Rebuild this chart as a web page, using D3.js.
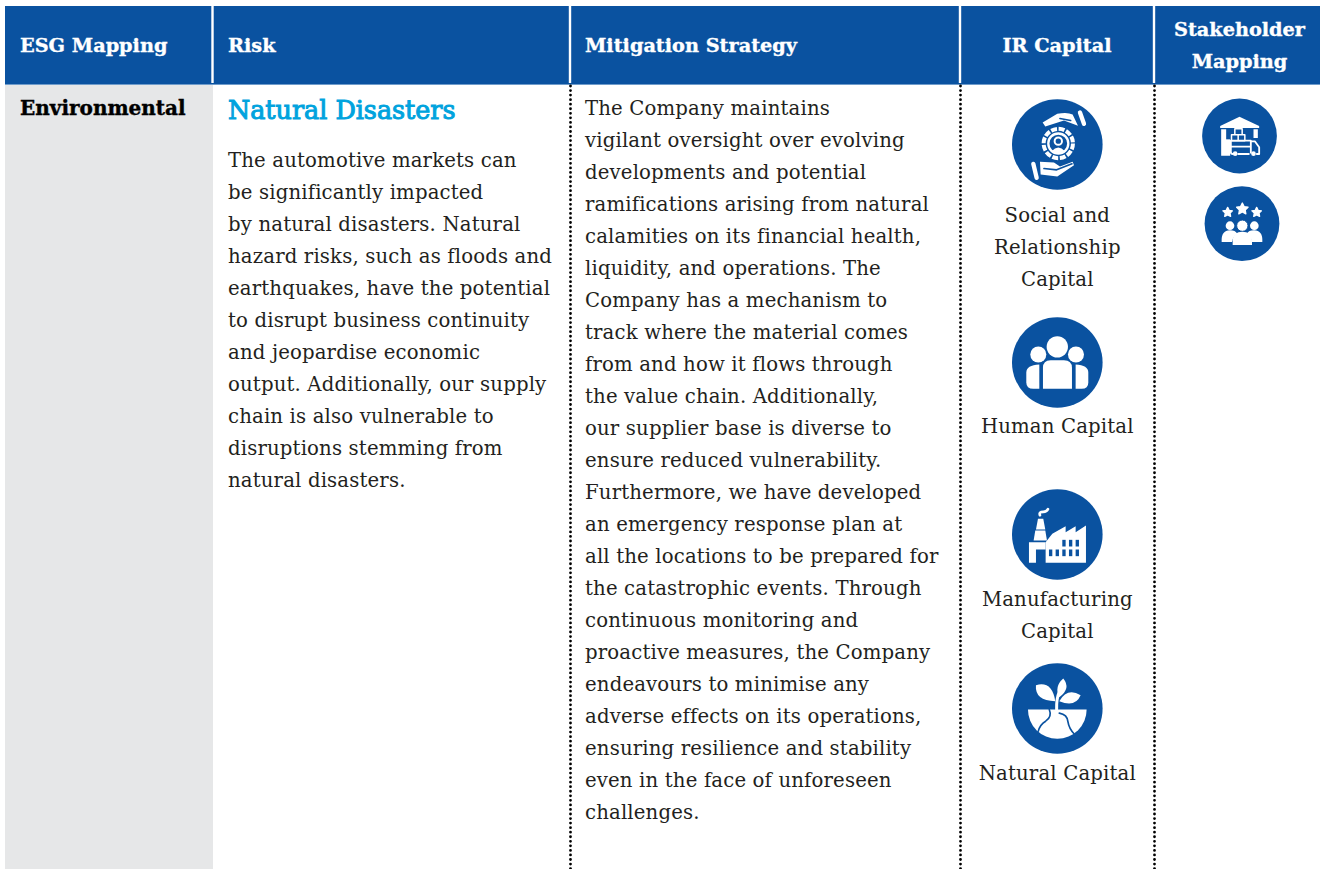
<!DOCTYPE html>
<html>
<head>
<meta charset="utf-8">
<script src="https://cdn.jsdelivr.net/npm/d3@7"></script>
<style>
html, body { margin: 0; padding: 0; background: #fff; overflow: hidden; }
text { font-family: "DejaVu Serif", serif; }
</style>
</head>
<body>
<script>
// table content
var columns = ["ESG Mapping", "Risk", "Mitigation Strategy", "IR Capital", ["Stakeholder", "Mapping"]];
var esgLabel = "Environmental";
var riskTitle = "Natural Disasters";
var riskLines = [
    "The automotive markets can",
    "be significantly impacted",
    "by natural disasters. Natural",
    "hazard risks, such as floods and",
    "earthquakes, have the potential",
    "to disrupt business continuity",
    "and jeopardise economic",
    "output. Additionally, our supply",
    "chain is also vulnerable to",
    "disruptions stemming from",
    "natural disasters."
];
var mitigationLines = [
    "The Company maintains",
    "vigilant oversight over evolving",
    "developments and potential",
    "ramifications arising from natural",
    "calamities on its financial health,",
    "liquidity, and operations. The",
    "Company has a mechanism to",
    "track where the material comes",
    "from and how it flows through",
    "the value chain. Additionally,",
    "our supplier base is diverse to",
    "ensure reduced vulnerability.",
    "Furthermore, we have developed",
    "an emergency response plan at",
    "all the locations to be prepared for",
    "the catastrophic events. Through",
    "continuous monitoring and",
    "proactive measures, the Company",
    "endeavours to minimise any",
    "adverse effects on its operations,",
    "ensuring resilience and stability",
    "even in the face of unforeseen",
    "challenges."
];
var capitalIcons = ["social", "human", "manufacturing", "natural"];
var capitalLabels = [["Social and", "Relationship", "Capital"], ["Human Capital"], ["Manufacturing", "Capital"], ["Natural Capital"]];
var stakeholderIcons = ["warehouse", "people"];

var blue = "#0a52a0", sky = "#00a3de", grey = "#e6e7e8", ink = "#231f20";
var width = 1320, height = 869;

var svg = d3.select("body").append("svg")
    .attr("width", width)
    .attr("height", height);

// column layout
var colX = d3.scaleOrdinal().domain(d3.range(6)).range([5, 213, 570.5, 960.5, 1154.5, 1320]);
var lineY = d3.scaleLinear().domain([0, 1]).range([0, 32]);

// header
svg.append("rect").attr("x", 5).attr("y", 6).attr("width", width - 5).attr("height", 78).attr("fill", blue);
svg.append("rect").attr("x", 5).attr("y", 84).attr("width", width - 5).attr("height", 1).attr("fill", "#6f9ccb");
svg.selectAll(".sep").data([1, 2, 3, 4]).enter().append("line")
    .attr("class", "sep")
    .attr("x1", function(d){ return colX(d) - 0.5; })
    .attr("x2", function(d){ return colX(d) - 0.5; })
    .attr("y1", 6).attr("y2", 83)
    .attr("stroke", "#fff").attr("stroke-width", 2.4);

var headStyle = function(sel){
    sel.attr("fill", "#fff").attr("stroke", "#fff").attr("stroke-width", 0.35)
        .attr("font-size", 19.3).attr("font-weight", "bold");
};
svg.append("text").text(columns[0]).attr("x", 20).attr("y", 52).call(headStyle);
svg.append("text").text(columns[1]).attr("x", 228).attr("y", 52).call(headStyle);
svg.append("text").text(columns[2]).attr("x", 585).attr("y", 52).call(headStyle);
svg.append("text").text(columns[3]).attr("x", 1057).attr("y", 52).attr("text-anchor", "middle").call(headStyle);
svg.selectAll(".head2").data(columns[4]).enter().append("text")
    .attr("class", "head2")
    .text(function(d){ return d; })
    .attr("x", 1239.5)
    .attr("y", function(d, i){ return 36 + lineY(i); })
    .attr("text-anchor", "middle")
    .call(headStyle);

// esg cell
svg.append("rect").attr("x", 5).attr("y", 85).attr("width", 208).attr("height", height - 85).attr("fill", grey);
svg.append("text").text(esgLabel).attr("x", 20).attr("y", 114.5)
    .attr("font-size", 20).attr("font-weight", "bold").attr("fill", "#000")
    .attr("stroke", "#000").attr("stroke-width", 0.4);

// dotted column rules
svg.selectAll(".rule").data([2, 3, 4]).enter().append("line")
    .attr("class", "rule")
    .attr("x1", colX).attr("x2", colX)
    .attr("y1", 86).attr("y2", height)
    .attr("stroke", "#000").attr("stroke-width", 2.8)
    .attr("stroke-linecap", "round").attr("stroke-dasharray", "0 4.55");

// risk + mitigation text
svg.append("text").text(riskTitle).attr("x", 228).attr("y", 119)
    .attr("font-size", 25.4).attr("fill", sky)
    .attr("stroke", sky).attr("stroke-width", 1);

function bodyLines(cls, lines, x, y0){
    svg.selectAll("." + cls).data(lines).enter().append("text")
        .attr("class", cls)
        .text(function(d){ return d; })
        .attr("x", x)
        .attr("y", function(d, i){ return y0 + lineY(i); })
        .attr("font-size", 19.7)
        .attr("letter-spacing", 0.15)
        .attr("fill", ink);
}
bodyLines("risk", riskLines, 228, 166.7);
bodyLines("mit", mitigationLines, 585, 114.7);

// icons, path units are 1/3 px around the circle centre
function badge(cx, cy, r){
    return svg.append("g").attr("transform", "translate(" + cx + "," + cy + ")")
        .call(function(g){ g.append("circle").attr("r", r).attr("fill", blue); })
        .append("g").attr("transform", "scale(" + (1 / 3) + ")");
}
function fillPath(g, d, c){ return g.append("path").attr("d", d).attr("fill", c || "#fff"); }
function linePath(g, d, w, c){
    return g.append("path").attr("d", d).attr("fill", "none").attr("stroke", c || "#fff")
        .attr("stroke-width", w).attr("stroke-linecap", "round").attr("stroke-linejoin", "round");
}
function star(g, cx, cy, r){
    var pts = d3.range(10).map(function(i){
        var a = -Math.PI / 2 + i * Math.PI / 5, k = i % 2 ? r * 0.5 : r;
        return [cx + k * Math.cos(a), cy + k * Math.sin(a)];
    });
    g.append("polygon").attr("points", pts.join(" ")).attr("fill", "#fff")
        .attr("stroke", "#fff").attr("stroke-width", 4).attr("stroke-linejoin", "round");
}

var drawIcon = {
    social: function(g){
        fillPath(g, "M-44,-66 L0,-92 Q30,-98 46,-90 L62,-56 L20,-72 L-36,-54 Z");
        linePath(g, "M8,-78 L40,-72", 5, blue);
        linePath(g, "M68,-96 L80,-62", 13);
        fillPath(g, "M-52,52 L-10,54 L8,66 L46,52 L50,62 L0,96 L-50,90 Z");
        linePath(g, "M-40,72 L-2,76 L44,58", 5, blue);
        linePath(g, "M-72,58 L-62,100", 13);
        g.append("circle").attr("cx", 3).attr("cy", -3).attr("r", 44).attr("fill", "none")
            .attr("stroke", "#fff").attr("stroke-width", 12).attr("stroke-dasharray", "18 5");
        g.append("circle").attr("cx", 3).attr("cy", -3).attr("r", 30).attr("fill", blue)
            .attr("stroke", "#fff").attr("stroke-width", 7);
        g.append("circle").attr("cx", 3).attr("cy", -10).attr("r", 11).attr("fill", "none")
            .attr("stroke", "#fff").attr("stroke-width", 6);
        fillPath(g, "M-17,20 Q3,-2 23,20 Q3,32 -17,20 Z");
    },
    human: function(g){
        g.append("circle").attr("cy", -47).attr("r", 32).attr("fill", "#fff");
        g.append("circle").attr("cx", -57).attr("cy", -24).attr("r", 24).attr("fill", "#fff");
        g.append("circle").attr("cx", 56).attr("cy", -24).attr("r", 24).attr("fill", "#fff");
        fillPath(g, "M-43,79 L-43,16 Q-43,-7 -20,-7 L20,-7 Q44,-7 44,16 L44,79 Z");
        fillPath(g, "M-54,79 L-72,79 Q-93,79 -93,60 L-93,30 Q-93,8 -54,6 Z");
        fillPath(g, "M55,79 L73,79 Q93,79 93,60 L93,30 Q93,8 55,6 Z");
    },
    manufacturing: function(g){
        fillPath(g, "M-85,23 L-35,23 L-35,45 L-64,45 L-64,85 L-85,85 Z");
        fillPath(g, "M-35,85 L-35,23 L-15,-2 L25,-25 L25,-7 L55,-25 L55,-7 L86,-27 L86,85 Z");
        fillPath(g, "M-58,-47 L-42,-47 L-36,-15 L-64,-15 Z");
        fillPath(g, "M-66,-12 L-36,-12 L-31,18 L-71,18 Z");
        [[15, 16], [35, 16], [55, 16], [-25, 45], [-5, 45], [15, 45], [35, 45], [55, 45]].forEach(function(p){
            g.append("rect").attr("x", p[0]).attr("y", p[1]).attr("width", 10).attr("height", 20).attr("fill", blue);
        });
        linePath(g, "M-52,-58 Q-56,-68 -42,-68 Q-32,-68 -28,-76", 8);
    },
    natural: function(g){
        fillPath(g, "M-88,3 L88,3 A88,88 0 0 1 -88,3 Z");
        linePath(g, "M-24,3 Q-15,25 -35,38 Q-52,48 -57,68", 5, blue);
        linePath(g, "M6,14 Q30,18 32,40 Q35,60 52,78", 5, blue);
        linePath(g, "M-2,3 Q-3,-30 6,-50", 9);
        fillPath(g, "M-6,-22 Q-68,-24 -64,-70 Q-16,-84 -6,-22 Z");
        fillPath(g, "M6,-34 Q-10,-66 18,-90 Q42,-60 6,-34 Z");
        fillPath(g, "M6,-22 Q30,-64 70,-40 Q54,-2 6,-22 Z");
    },
    warehouse: function(g){
        fillPath(g, "M-58,-30 L0,-58 L59,-30 L59,-24 L-58,-24 Z");
        fillPath(g, "M-55,-20 L55,-20 L55,6 L-28,6 L-28,59 L-55,59 Z");
        g.append("rect").attr("x", -40).attr("y", -24).attr("width", 82).attr("height", 34).attr("fill", blue);
        linePath(g, "M-24,-4 L-4,-4 L-4,14 L-24,14 Z M-4,-4 L16,-4 L16,14 L-4,14 Z M-14,-4 L-14,-22 L8,-22 L8,-4", 4.5);
        linePath(g, "M-26,14 L34,14 L34,50 M-26,14 L-26,48 Q-26,54 -20,54 M-26,32 L32,32 M34,16 L46,16 L59,34 L59,54 L52,54 M-4,54 L28,54", 5.5);
        g.append("circle").attr("cx", -13).attr("cy", 53).attr("r", 7).attr("fill", "#fff");
        g.append("circle").attr("cx", 42).attr("cy", 53).attr("r", 7).attr("fill", "#fff");
    },
    people: function(g){
        star(g, -43, -34, 15);
        star(g, 1, -44, 18);
        star(g, 44, -34, 15);
        g.append("circle").attr("cx", -36).attr("cy", 6).attr("r", 13).attr("fill", "#fff");
        g.append("circle").attr("cx", 37).attr("cy", 6).attr("r", 13).attr("fill", "#fff");
        fillPath(g, "M-61,55 Q-63,20 -36,20 Q-20,20 -14,30 Q-28,38 -30,55 Z");
        fillPath(g, "M61,55 Q63,20 36,20 Q20,20 14,30 Q28,38 30,55 Z");
        g.append("circle").attr("cx", 1).attr("cy", 6).attr("r", 17).attr("stroke", blue).attr("stroke-width", 3).attr("fill", "#fff");
        fillPath(g, "M-28,64 L-28,50 Q-26,24 1,24 Q28,24 30,50 L30,64 Z");
    }
};

// IR capital column
var capitalY = d3.scaleOrdinal().domain(capitalIcons).range([144.5, 362.5, 534.5, 708.5]);
var capitalLabelY = d3.scaleOrdinal().domain(capitalIcons).range([221.7, 432.7, 605.7, 779.7]);
capitalIcons.forEach(function(name, i){
    drawIcon[name](badge(1057.3, capitalY(name), 45.3));
    svg.selectAll(".cap" + i).data(capitalLabels[i]).enter().append("text")
        .attr("class", "cap" + i)
        .text(function(d){ return d; })
        .attr("x", 1057.3)
        .attr("y", function(d, j){ return capitalLabelY(name) + lineY(j); })
        .attr("text-anchor", "middle")
        .attr("font-size", 19.7)
        .attr("letter-spacing", 0.15)
        .attr("fill", ink);
});

// stakeholder column
var stakeX = d3.scaleOrdinal().domain(stakeholderIcons).range([1239.5, 1242]);
var stakeY = d3.scaleOrdinal().domain(stakeholderIcons).range([136, 223.7]);
stakeholderIcons.forEach(function(name){
    drawIcon[name](badge(stakeX(name), stakeY(name), 37.4));
});
</script>
</body>
</html>
